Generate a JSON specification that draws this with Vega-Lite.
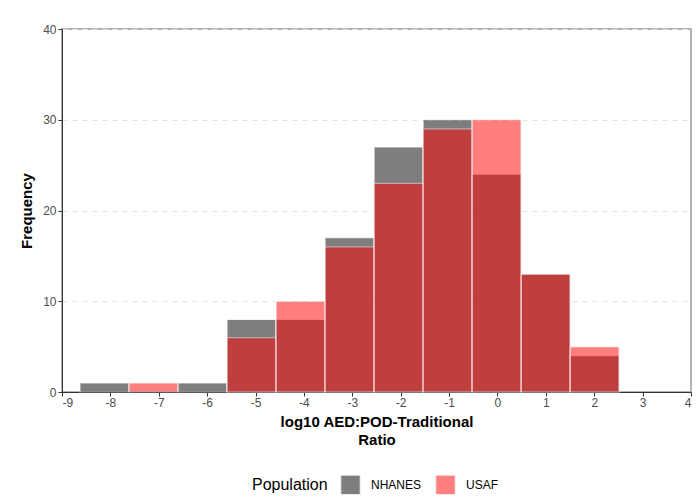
{
  "$schema": "https://vega.github.io/schema/vega-lite/v6.json",
  "width": 629,
  "height": 363,
  "autosize": {"type": "none"},
  "padding": {"left": 62, "top": 29, "right": 9, "bottom": 107},
  "background": "white",
  "config": {
    "font": "Liberation Sans",
    "view": {"stroke": "#9a9a9a", "strokeWidth": 1.5}
  },
  "data": {
    "values": [
      {"Population": "NHANES", "bin_start": -8.63, "bin_end": -7.617, "count": 1},
      {"Population": "NHANES", "bin_start": -6.604, "bin_end": -5.59, "count": 1},
      {"Population": "NHANES", "bin_start": -5.59, "bin_end": -4.577, "count": 8},
      {"Population": "NHANES", "bin_start": -4.577, "bin_end": -3.564, "count": 8},
      {"Population": "NHANES", "bin_start": -3.564, "bin_end": -2.551, "count": 17},
      {"Population": "NHANES", "bin_start": -2.551, "bin_end": -1.538, "count": 27},
      {"Population": "NHANES", "bin_start": -1.538, "bin_end": -0.525, "count": 30},
      {"Population": "NHANES", "bin_start": -0.525, "bin_end": 0.489, "count": 24},
      {"Population": "NHANES", "bin_start": 0.489, "bin_end": 1.502, "count": 13},
      {"Population": "NHANES", "bin_start": 1.502, "bin_end": 2.515, "count": 4},
      {"Population": "USAF", "bin_start": -7.617, "bin_end": -6.604, "count": 1},
      {"Population": "USAF", "bin_start": -5.59, "bin_end": -4.577, "count": 6},
      {"Population": "USAF", "bin_start": -4.577, "bin_end": -3.564, "count": 10},
      {"Population": "USAF", "bin_start": -3.564, "bin_end": -2.551, "count": 16},
      {"Population": "USAF", "bin_start": -2.551, "bin_end": -1.538, "count": 23},
      {"Population": "USAF", "bin_start": -1.538, "bin_end": -0.525, "count": 29},
      {"Population": "USAF", "bin_start": -0.525, "bin_end": 0.489, "count": 30},
      {"Population": "USAF", "bin_start": 0.489, "bin_end": 1.502, "count": 13},
      {"Population": "USAF", "bin_start": 1.502, "bin_end": 2.515, "count": 5}
    ]
  },
  "mark": {"type": "bar", "opacity": 0.5, "stroke": "#ffffff", "strokeWidth": 1.2, "strokeOpacity": 0.8},
  "encoding": {
    "x": {
      "field": "bin_start",
      "type": "quantitative",
      "scale": {"domain": [-9, 4], "nice": false, "zero": false},
      "axis": {
        "values": [-9, -8, -7, -6, -5, -4, -3, -2, -1, 0, 1, 2, 3, 4],
        "labelExpr": "datum.value < 0 ? '-' + abs(datum.value) : '' + datum.value",
        "title": ["log10 AED:POD-Traditional", "Ratio"],
        "titleFontSize": 15,
        "titleFontWeight": "bold",
        "titleColor": "#000000",
        "titlePadding": 6,
        "titleLineHeight": 18,
        "labelFontSize": 12,
        "labelColor": "#4d4d4d",
        "labelPadding": 1,
        "tickColor": "#333333",
        "tickSize": 4,
        "domainColor": "#333333",
        "grid": false
      }
    },
    "x2": {"field": "bin_end"},
    "y": {
      "field": "count",
      "type": "quantitative",
      "stack": null,
      "scale": {"domain": [0, 40], "nice": false},
      "axis": {
        "values": [0, 10, 20, 30, 40],
        "title": "Frequency",
        "titleFontSize": 15,
        "titleFontWeight": "bold",
        "titleColor": "#000000",
        "titlePadding": 8,
        "labelFontSize": 12,
        "labelColor": "#4d4d4d",
        "labelPadding": 2,
        "tickColor": "#333333",
        "tickSize": 4,
        "domainColor": "#333333",
        "grid": true,
        "gridDash": [5, 5],
        "gridColor": "#e3e3e3",
        "gridWidth": 1.2
      }
    },
    "y2": {"datum": 0},
    "fill": {
      "field": "Population",
      "type": "nominal",
      "scale": {"domain": ["NHANES", "USAF"], "range": ["#000000", "#ff0000"]},
      "legend": {
        "orient": "none",
        "legendX": 190,
        "legendY": 445,
        "direction": "horizontal",
        "title": "Population",
        "titleOrient": "left",
        "titleFontSize": 16,
        "titleFontWeight": "normal",
        "titleColor": "#000000",
        "titlePadding": 12,
        "titleAnchor": "middle",
        "labelFontSize": 12,
        "labelColor": "#000000",
        "labelOffset": 10,
        "columnPadding": 11,
        "symbolType": "square",
        "symbolSize": 380,
        "symbolOpacity": 0.5,
        "symbolStrokeColor": "#eeeeee",
        "symbolStrokeWidth": 1
      }
    },
    "order": {"field": "Population"}
  }
}
